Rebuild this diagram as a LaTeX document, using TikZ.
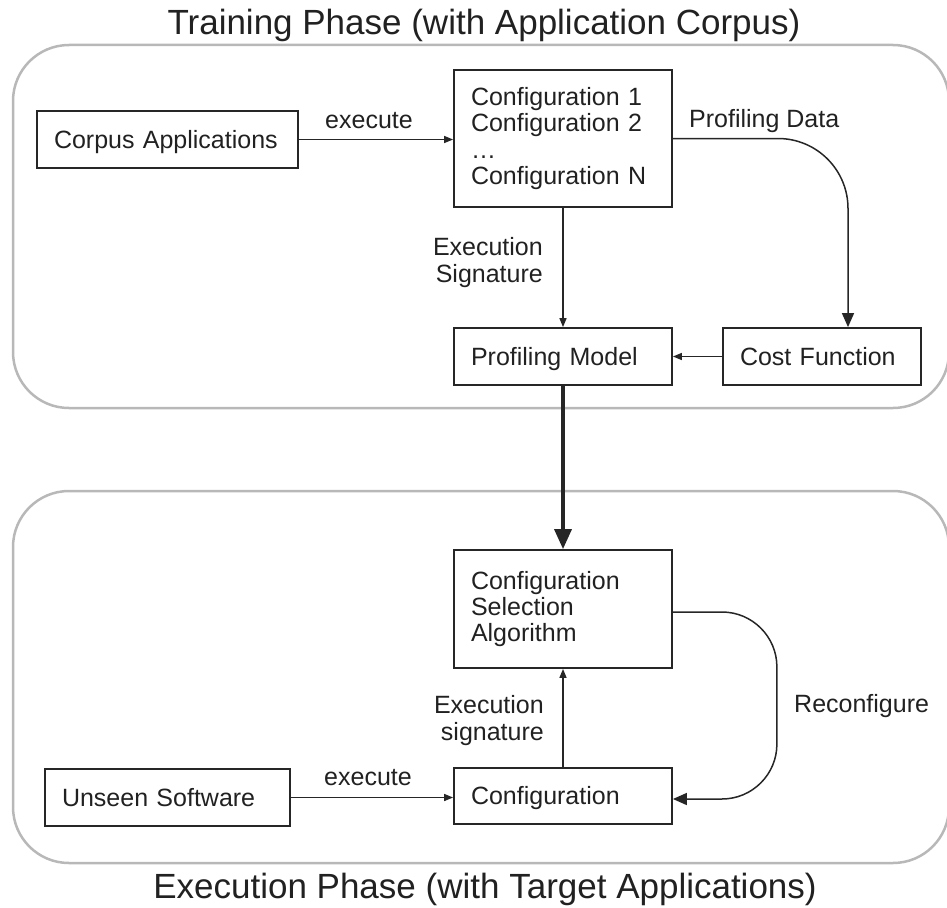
\documentclass[tikz,border=0pt]{standalone}
\usepackage{fontspec}
\setmainfont{Liberation Sans}
\usetikzlibrary{arrows.meta}
\begin{document}
\begin{tikzpicture}[x=1pt,y=-1pt,
  every node/.style={font=\fontsize{25}{26.3}\selectfont, text=black!87},
  box/.style={draw=black!85, line width=1.8pt, inner xsep=17pt, inner ysep=0pt, align=left},
  oneline/.style={text height=17.8pt, text depth=0pt},
  phase/.style={draw=black!28, line width=2.5pt, rounded corners=56pt, inner sep=0pt},
  conn/.style={draw=black!85, line width=1.5pt},
  small/.style={-{Triangle[length=9pt,width=7pt]}},
  big/.style={-{Triangle[length=14pt,width=12pt]}},
  heavy/.style={line width=3.5pt, -{Triangle[length=20pt,width=17pt]}},
  lbl/.style={inner sep=0pt},
  title/.style={font=\fontsize{35}{40}\selectfont, inner sep=0pt, anchor=base}
]
\useasboundingbox (0,0) rectangle (947,907);

% phase frames
\node[phase, minimum width=936pt, minimum height=363pt] (train) at (481,226.5) {};
\node[phase, minimum width=936pt, minimum height=372pt] (exec) at (481,677) {};

% titles
\node[title] (ttitle) at (484,35) {Training Phase (with Application Corpus)};
\node[title] (etitle) at (485,898) {Execution Phase (with Target Applications)};

% training boxes
\node[box, oneline, minimum width=261pt, minimum height=57pt, text width=227pt] (corpus) at (167.5,139.5) {Corpus Applications};
\node[box, minimum width=218pt, minimum height=137pt, text width=184pt] (cfg) at (563,138.5) {Configuration 1\\Configuration 2\\…\\Configuration N};
\node[box, oneline, minimum width=218pt, minimum height=57pt, text width=184pt] (pm) at (563,356.5) {Profiling Model};
\node[box, oneline, minimum width=198pt, minimum height=57pt, text width=164pt] (cost) at (822,356.5) {Cost Function};

% execution boxes
\node[box, minimum width=218pt, minimum height=118pt, text width=184pt] (csa) at (563,609) {Configuration\\Selection\\Algorithm};
\node[box, oneline, minimum width=218pt, minimum height=56pt, text width=184pt] (conf) at (563,796) {Configuration};
\node[box, oneline, minimum width=245pt, minimum height=57pt, text width=211pt] (unseen) at (167.5,797.5) {Unseen Software};

% connectors
\draw[conn, small] (corpus.east) -- (corpus.east -| cfg.west);
\draw[conn, big, rounded corners=70pt] (cfg.east) -| ([xshift=26pt]cost.north);
\draw[conn, small] (cfg.south) -- (pm.north);
\draw[conn, small] (cost.west) -- (pm.east);
\draw[conn, heavy] (pm.south) -- (csa.north);
\draw[conn, small] (conf.north) -- (csa.south);
\draw[conn, small] (unseen.east) -- (unseen.east -| conf.west);
\draw[conn, big, rounded corners=55pt] ([yshift=-3pt]csa.east) -- ++(104,0) |- ([yshift=-3pt]conf.east);

% labels
\node[lbl, anchor=base] (exec1) at (369,128) {execute};
\node[lbl, anchor=base west] (pdata) at (689,127) {Profiling Data};
\node[lbl, anchor=north east, align=right] (sig1) at (543,237.5) {Execution\\Signature};
\node[lbl, anchor=north east, align=right] (sig2) at (544,695.5) {Execution\\signature};
\node[lbl, anchor=base] (exec2) at (368,785) {execute};
\node[lbl, anchor=base west] (reconf) at (794,712) {Reconfigure};
\end{tikzpicture}
\end{document}
